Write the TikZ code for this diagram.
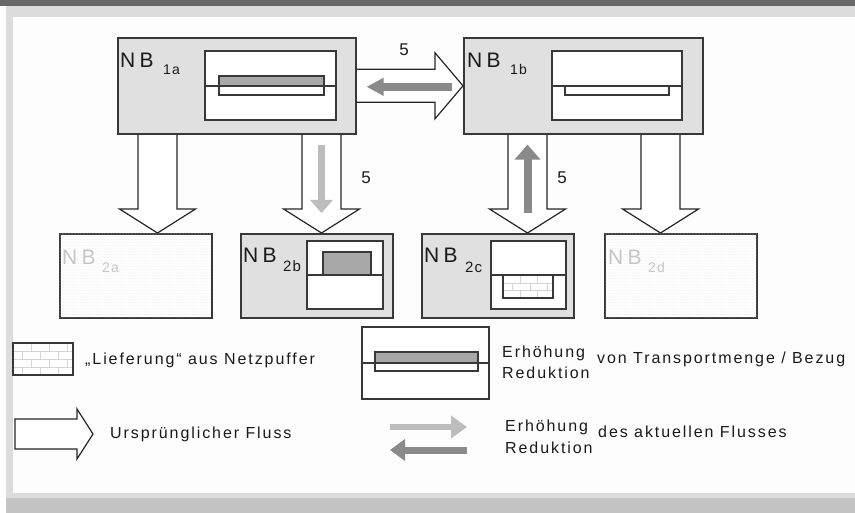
\documentclass[tikz,border=0pt]{standalone}
\usepackage{fontspec}
\setmainfont{Liberation Sans}
\newfontfamily\legfont[LetterSpace=12]{Liberation Sans}
\newfontfamily\nbfont[LetterSpace=20]{Liberation Sans}
\newfontfamily\subfont[LetterSpace=8]{Liberation Sans}
\usetikzlibrary{arrows.meta,calc,patterns,backgrounds}

\definecolor{framec}{HTML}{383838}
\definecolor{boxfill}{HTML}{E0E0E0}
\definecolor{barfill}{HTML}{A8A8A8}
\definecolor{incrc}{HTML}{BDBDBD}
\definecolor{decrc}{HTML}{8A8A8A}
\definecolor{panelc}{HTML}{FDFDFD}
\definecolor{bandc}{HTML}{DCDCDC}
\definecolor{topbarc}{HTML}{686868}
\definecolor{botbandc}{HTML}{C4C4C4}
\definecolor{textc}{HTML}{1A1A1A}
\definecolor{fadedc}{HTML}{C6C6C6}
\definecolor{brickc}{HTML}{D4D4D4}
\definecolor{dotc}{HTML}{D2D2D2}

% outline flow arrows between two points
\newcommand\flowdown[2]{%
  \filldraw[flowline] let \p1=(#1), \p2=(#2) in
    ({\x1-19.5pt},\y1) -- ({\x1-19.5pt},{\y2+24pt}) -- ({\x1-38pt},{\y2+24pt})
    -- (\x1,\y2) -- ({\x1+38pt},{\y2+24pt}) -- ({\x1+19.5pt},{\y2+24pt})
    -- ({\x1+19.5pt},\y1);}
\newcommand\flowright[2]{%
  \filldraw[flowline] let \p1=(#1), \p2=(#2) in
    (\x1,{\y1+16.5pt}) -- ({\x2-28pt},{\y1+16.5pt}) -- ({\x2-28pt},{\y1+33pt})
    -- (\x2,\y1) -- ({\x2-28pt},{\y1-33pt}) -- ({\x2-28pt},{\y1-16.5pt})
    -- (\x1,{\y1-16.5pt});}

\begin{document}
\begin{tikzpicture}[x=1pt, y=-1pt,
  frame/.style={draw=framec, line width=1.6pt},
  nbbox/.style={frame, fill=boxfill, anchor=north west, inner sep=0pt,
    minimum width=152, minimum height=84},
  nbfaded/.style={nbbox, fill=white, postaction={pattern=dots, pattern color=dotc}},
  nblbl/.style={anchor=base west, inner sep=0pt, text=textc,
    font=\nbfont\fontsize{21}{24}\selectfont},
  nbsub/.style={nblbl, font=\subfont\fontsize{14}{16}\selectfont},
  numlbl/.style={inner sep=0pt, text=textc, font=\fontsize{17}{20}\selectfont},
  legtext/.style={anchor=base west, inner sep=0pt, text=textc,
    font=\legfont\fontsize{16}{19}\selectfont},
  flowline/.style={draw=black!85, fill=white, line width=1.2pt, line join=miter},
  incr/.style={draw=incrc, line width=7pt, -{Triangle[length=13pt,width=22pt]}},
  decr/.style={draw=decrc, line width=8pt, -{Triangle[length=16pt,width=24pt]}},
  brick/.style={draw=brickc, line width=0.9pt}]
  \useasboundingbox (0,0) rectangle (855,513);

  % network nodes
  \node[nbbox, minimum width=238, minimum height=96] (nb1a) at (117,37) {};
  \node[nbbox, minimum width=239, minimum height=96] (nb1b) at (463,37) {};
  \node[nbfaded] (nb2a) at (59,233) {};
  \node[nbbox] (nb2b) at (240,233) {};
  \node[nbbox] (nb2c) at (421,233) {};
  \node[nbfaded] (nb2d) at (604,233) {};

  % contents of nb1a and nb1b
  \draw[frame, fill=white] (205,51) rectangle (336,120);
  \fill[barfill] (219,76) rectangle (324,86);
  \draw[frame] (219,76) rectangle (324,95);
  \draw[frame] (205,86) -- (336,86);
  \draw[frame, fill=white] (552,51) rectangle (682,120);
  \draw[frame] (552,86) -- (682,86);
  \draw[frame] (565,86) rectangle (669,95);

  % contents of nb2b and nb2c
  \draw[frame, fill=white] (307,241) rectangle (383,309);
  \draw[frame, fill=barfill] (323,252) rectangle (371,275);
  \draw[frame] (307,275) -- (383,275);
  \draw[frame, fill=white] (491,241) rectangle (566,309);
  \draw[brick] (503,283) -- (553,283) (503,290.5) -- (553,290.5);
  \foreach \xx in {520,537} \draw[brick] (\xx,275) -- (\xx,283) (\xx,290.5) -- (\xx,298);
  \foreach \xx in {512,530,547} \draw[brick] (\xx,283) -- (\xx,290.5);
  \draw[frame] (503,275) rectangle (553,298);
  \draw[frame] (491,275) -- (566,275);

  % labels
  \node[nblbl] (nb1a-l) at (120,68) {NB};
  \node[nbsub] (nb1a-s) at (163,75) {1a};
  \node[nblbl] (nb1b-l) at (467,68) {NB};
  \node[nbsub] (nb1b-s) at (510,75) {1b};
  \node[nblbl, text=fadedc] (nb2a-l) at (62,265) {NB};
  \node[nbsub, text=fadedc] (nb2a-s) at (102,273) {2a};
  \node[nblbl] (nb2b-l) at (243,263) {NB};
  \node[nbsub, font=\subfont\fontsize{15}{18}\selectfont] (nb2b-s) at (283,272) {2b};
  \node[nblbl] (nb2c-l) at (424,263) {NB};
  \node[nbsub, font=\subfont\fontsize{15}{18}\selectfont] (nb2c-s) at (465,273) {2c};
  \node[nblbl, text=fadedc] (nb2d-l) at (608,265) {NB};
  \node[nbsub, text=fadedc] (nb2d-s) at (648,273) {2d};
  \node[numlbl] (num-h) at (404,50) {5};
  \node[numlbl] (num-b) at (366,178) {5};
  \node[numlbl] (num-c) at (562,178) {5};

  % flows
  \coordinate (f1s) at ($(nb1a.south west)+(40.5,0)$);
  \coordinate (f1e) at (f1s |- nb2a.north);
  \coordinate (f2s) at ($(nb1a.south west)+(204.5,0)$);
  \coordinate (f2e) at (f2s |- nb2b.north);
  \coordinate (f3s) at ($(nb1b.south west)+(64.5,0)$);
  \coordinate (f3e) at (f3s |- nb2c.north);
  \coordinate (f4s) at ($(nb1b.south west)+(197.5,0)$);
  \coordinate (f4e) at (f4s |- nb2d.north);
  \coordinate (incr-s) at ($(f2s)+(0,10)$);
  \coordinate (incr-e) at ($(f2e)+(0,-20)$);
  \coordinate (decr-s) at ($(f3e)+(0,-20)$);
  \coordinate (decr-e) at ($(f3s)+(0,10)$);
  \coordinate (decrh-s) at ($(nb1b.west)+(-11,1)$);
  \coordinate (decrh-e) at ($(nb1a.east)+(10,1)$);

  % legend
  \draw[fill=white, draw=none] (13,343) rectangle (73,375);
  \draw[brick] (13,351) -- (73,351) (13,359) -- (73,359) (13,367) -- (73,367);
  \foreach \xx in {31,49,67} \draw[brick] (\xx,343) -- (\xx,351) (\xx,359) -- (\xx,367);
  \foreach \xx in {22,40,58} \draw[brick] (\xx,351) -- (\xx,359) (\xx,367) -- (\xx,375);
  \draw[frame] (13,343) rectangle (73,375);
  \node[legtext] (leg-brick) at (85,365) {„Lieferung“ aus Netzpuffer};

  \draw[frame, fill=white] (362,327) rectangle (489,399);
  \fill[barfill] (375,352) rectangle (478,363);
  \draw[frame] (375,352) rectangle (478,371);
  \draw[frame] (362,363) -- (489,363);
  \node[legtext] (leg-amt-up) at (502,358) {Erhöhung};
  \node[legtext] (leg-amt-dn) at (502,378) {Reduktion};
  \node[legtext] (leg-amt) at (597,363.5) {von Transportmenge / Bezug};

  \filldraw[flowline] (15,419) -- (77,419) -- (77,409) -- (93,434) -- (77,459)
    -- (77,449) -- (15,449) -- cycle;
  \node[legtext] (leg-flow) at (110,438) {Ursprünglicher Fluss};

  \coordinate (leg-incr-s) at (390,427);
  \coordinate (leg-incr-e) at (467,427);
  \coordinate (leg-decr-s) at (467,450);
  \coordinate (leg-decr-e) at (390,450);
  \draw[incr, line width=6pt, -{Triangle[length=16pt,width=22pt]}] (leg-incr-s) -- (leg-incr-e);
  \draw[decr, line width=7pt, -{Triangle[length=15pt,width=21pt]}] (leg-decr-s) -- (leg-decr-e);
  \node[legtext] (leg-cur-up) at (505,431.5) {Erhöhung};
  \node[legtext] (leg-cur-dn) at (505,453) {Reduktion};
  \node[legtext] (leg-cur) at (598,437.5) {des aktuellen Flusses};

  \begin{scope}[on background layer]
    \fill[white] (0,0) rectangle (855,513);
    \fill[topbarc] (0,0) rectangle (855,6);
    \fill[bandc] (6,6) rectangle (855,17);
    \fill[bandc] (6,6) rectangle (13,498);
    \fill[bandc] (6,493) rectangle (855,498);
    \fill[botbandc] (6,498) rectangle (855,513);
    \fill[panelc] (13,17) rectangle (855,493);
    \flowright{nb1a.east}{nb1b.west}
    \flowdown{f1s}{f1e}
    \flowdown{f2s}{f2e}
    \flowdown{f3s}{f3e}
    \flowdown{f4s}{f4e}
    \draw[incr] (incr-s) -- (incr-e);
    \draw[decr, -{Triangle[length=15pt,width=25pt]}] (decr-s) -- (decr-e);
    \draw[decr, -{Triangle[length=17pt,width=17pt]}] (decrh-s) -- (decrh-e);
  \end{scope}
\end{tikzpicture}
\end{document}
